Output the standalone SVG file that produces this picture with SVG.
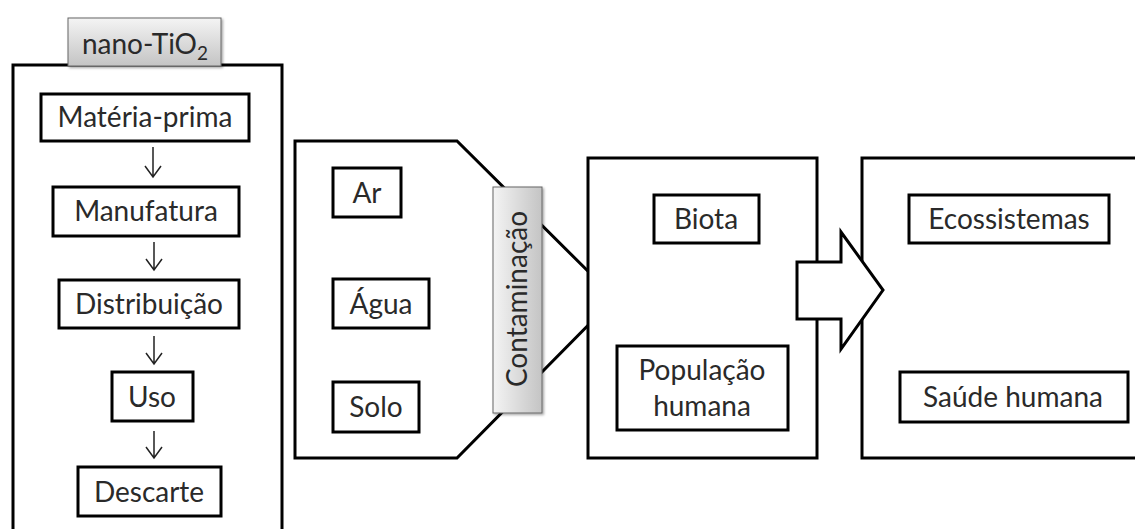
<svg xmlns="http://www.w3.org/2000/svg" width="1135" height="529" viewBox="0 0 1135 529">
<style>
.frame{fill:#fff;stroke:#000;stroke-width:3}
.box{fill:#fff;stroke:#000;stroke-width:3}
.t{font-family:Lato,"Open Sans","Liberation Sans",sans-serif;font-size:28px;fill:#2a2a2a;text-anchor:middle}
.arr{fill:none;stroke:#222;stroke-width:1.5}
.tab{stroke:#666;stroke-width:1}
</style>
<defs>
<linearGradient id="gv" x1="0" y1="0" x2="0" y2="1">
<stop offset="0" stop-color="#f4f4f4"/>
<stop offset="1" stop-color="#c4c4c4"/>
</linearGradient>
<linearGradient id="gh" x1="0" y1="0" x2="1" y2="0">
<stop offset="0" stop-color="#f4f4f4"/>
<stop offset="1" stop-color="#c4c4c4"/>
</linearGradient>
<filter id="sh" x="-10%" y="-10%" width="130%" height="130%">
<feDropShadow dx="1.5" dy="1.5" stdDeviation="1.2" flood-color="#000" flood-opacity="0.35"/>
</filter>
</defs>

<g id="lifecycle">
<path class="frame" d="M13,545 L13,65 L282,65 L282,545"/>
</g>
<g id="nano-tio2">
<rect class="tab" x="68" y="18" width="153" height="48" fill="url(#gv)" filter="url(#sh)"/>
<text class="t" x="145" y="54">nano-TiO<tspan font-size="19" dy="6">2</tspan></text>
</g>
<g id="materia-prima">
<rect class="box" x="41" y="94" width="208" height="47"/>
<text class="t" x="145" y="127">Matéria-prima</text>
</g>
<g id="manufatura">
<rect class="box" x="53" y="187" width="186" height="49"/>
<text class="t" x="146" y="221">Manufatura</text>
</g>
<g id="distribuicao">
<rect class="box" x="59" y="280" width="180" height="48"/>
<text class="t" x="149" y="314">Distribuição</text>
</g>
<g id="uso">
<rect class="box" x="112" y="372" width="81" height="49"/>
<text class="t" x="152" y="407">Uso</text>
</g>
<g id="descarte">
<rect class="box" x="78" y="467" width="143" height="49"/>
<text class="t" x="149" y="502">Descarte</text>
</g>

<g id="compartimentos">
<path class="frame" d="M295,141 L457,141 L615,298 L457,458 L295,458 Z"/>
</g>
<g id="ar">
<rect class="box" x="333" y="168" width="68" height="49"/>
<text class="t" x="367" y="203">Ar</text>
</g>
<g id="agua">
<rect class="box" x="333" y="279" width="96" height="49"/>
<text class="t" x="381" y="314">Água</text>
</g>
<g id="solo">
<rect class="box" x="333" y="382" width="86" height="50"/>
<text class="t" x="376" y="417">Solo</text>
</g>

<g id="receptores">
<rect class="box" x="588" y="158" width="229" height="300"/>
</g>
<g id="biota">
<rect class="box" x="654" y="195" width="105" height="48"/>
<text class="t" x="706" y="229">Biota</text>
</g>
<g id="populacao-humana">
<rect class="box" x="617" y="346" width="171" height="84"/>
<text class="t" x="702" y="380">População</text>
<text class="t" x="702" y="416">humana</text>
</g>

<g id="efeitos">
<path class="frame" d="M1145,158 L862,158 L862,458 L1145,458"/>
</g>
<g id="ecossistemas">
<rect class="box" x="909" y="195" width="200" height="48"/>
<text class="t" x="1009" y="229">Ecossistemas</text>
</g>
<g id="saude-humana">
<rect class="box" x="900" y="372" width="228" height="50"/>
<text class="t" x="1013" y="407">Saúde humana</text>
</g>

<g id="connectors">
<path class="frame" d="M797,262 L841,262 L841,232 L883,290 L841,349 L841,319 L797,319 Z"/>
<path class="arr" d="M153,147 V177 M145,166 L153,177 L161,166"/>
<path class="arr" d="M154,242 V270 M146,259 L154,270 L162,259"/>
<path class="arr" d="M154,336 V364 M146,353 L154,364 L162,353"/>
<path class="arr" d="M154,431 V458 M146,447 L154,458 L162,447"/>
</g>

<g id="contaminacao">
<rect class="tab" x="493" y="187" width="49" height="226" fill="url(#gh)" filter="url(#sh)"/>
<text class="t" transform="translate(527,299) rotate(-90)" x="0" y="0">Contaminação</text>
</g>
</svg>
